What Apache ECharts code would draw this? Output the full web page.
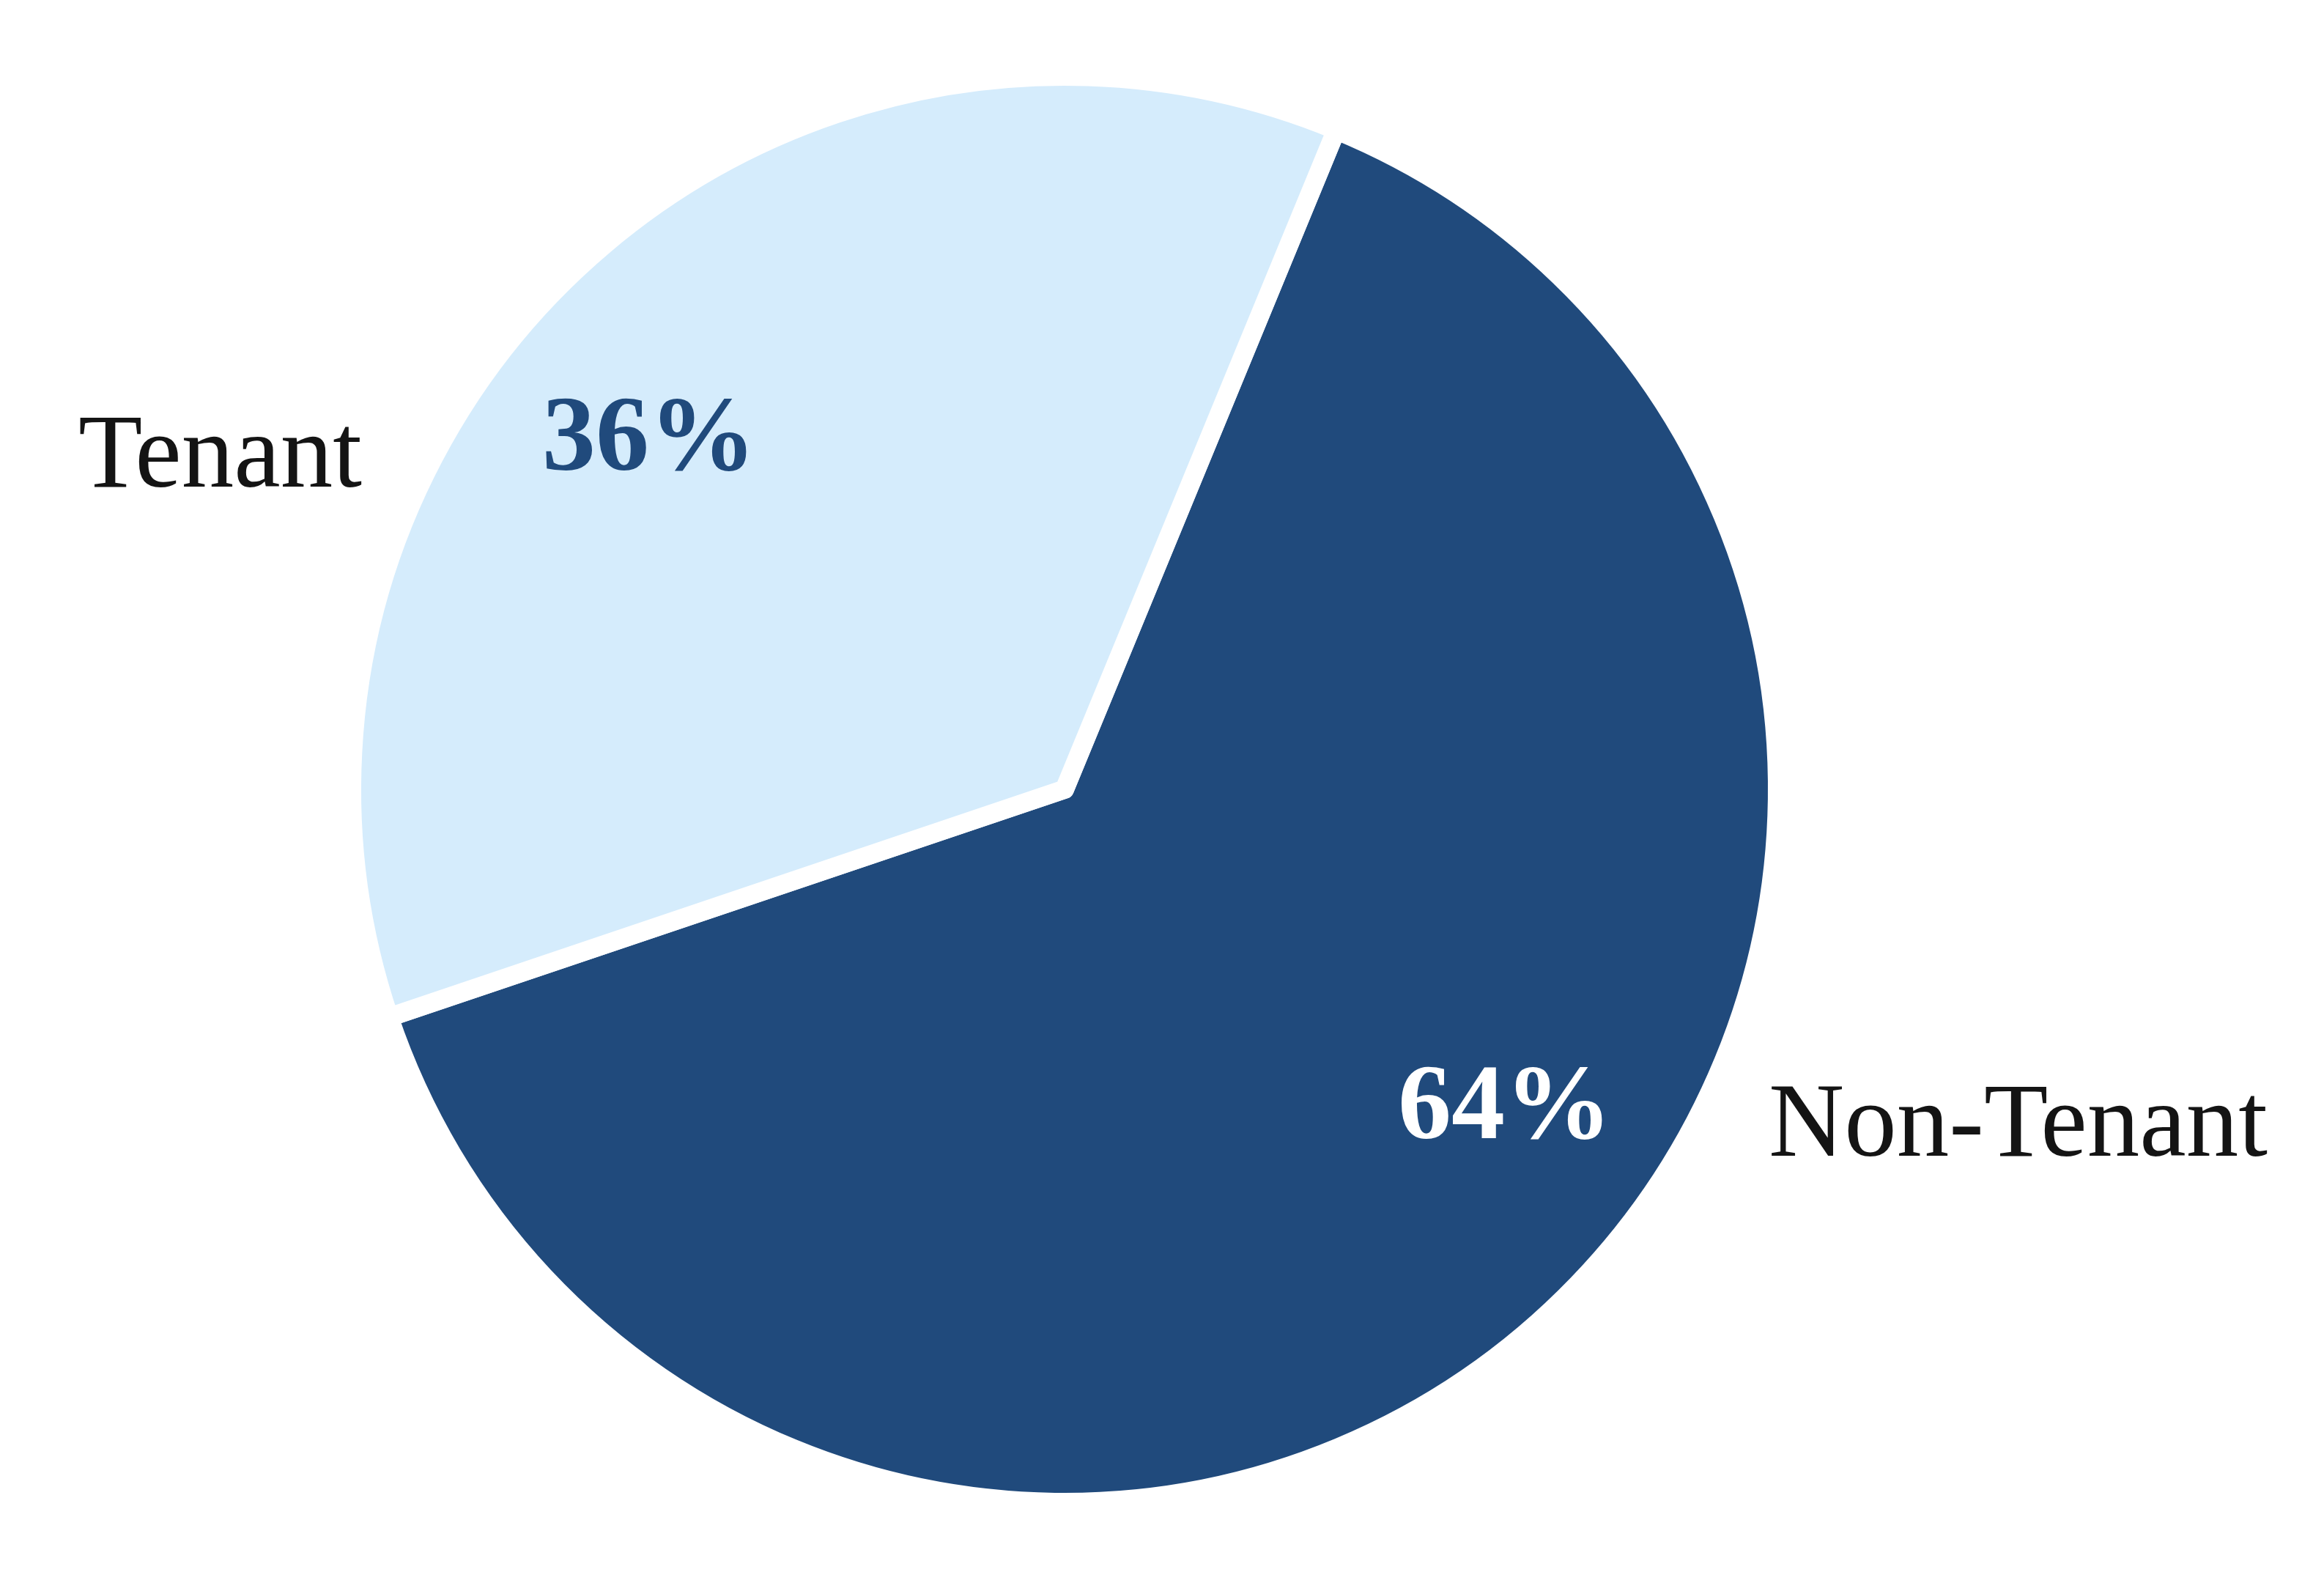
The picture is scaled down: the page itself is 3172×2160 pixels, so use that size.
<!DOCTYPE html>
<html>
<head>
<meta charset="utf-8">
<script src="https://cdn.jsdelivr.net/npm/echarts@6/dist/echarts.min.js"></script>
<style>
html,body{margin:0;padding:0;background:#fff;}
#chart{width:3172px;height:2160px;}
</style>
</head>
<body>
<div id="chart"></div>
<script>
const categories = ['Non-Tenant', 'Tenant'];
const shares = [63.6, 36.4];
const sliceColors = ['#204a7c', '#d5ecfc'];
const percentColors = ['#ffffff', '#204a7c'];

const CENTER = [1453, 1077];
const R = 973;
const serif = 'Liberation Serif';

const data = categories.map((c, i) => ({ name: c, value: shares[i] }));

const chart = echarts.init(document.getElementById('chart'), null, { renderer: 'canvas' });
chart.setOption({
  backgroundColor: '#ffffff',
  animation: false,
  series: [
    {
      type: 'pie',
      center: CENTER,
      radius: R,
      startAngle: 67.6,
      clockwise: true,
      silent: true,
      label: { show: false },
      labelLine: { show: false },
      itemStyle: { borderColor: '#ffffff', borderWidth: 26 },
      data: data.map((d, i) => ({ ...d, itemStyle: { color: sliceColors[i] } })),
      z: 2
    },
    {
      // percentage labels (transparent carrier ring)
      type: 'pie',
      center: [1470, 1059],
      radius: [688, 788],
      startAngle: 76.5,
      clockwise: true,
      silent: true,
      itemStyle: { color: 'rgba(0,0,0,0)' },
      label: {
        show: true,
        position: 'inside',
        formatter: p => Math.round(p.value) + '%',
        fontFamily: serif,
        fontWeight: 'bold',
        fontSize: 146
      },
      labelLine: { show: false },
      data: data.map((d, i) => ({ ...d, label: { color: percentColors[i] } })),
      z: 3
    },
    {
      // category name labels (transparent carrier)
      type: 'pie',
      center: [1454, 1083],
      radius: R,
      startAngle: 89.05,
      clockwise: true,
      silent: true,
      avoidLabelOverlap: false,
      itemStyle: { color: 'rgba(0,0,0,0)' },
      label: {
        show: true,
        position: 'outside',
        formatter: '{b}',
        fontFamily: serif,
        fontSize: 143,
        color: '#141414',
        distanceToLabelLine: 0
      },
      labelLine: { show: false, length: 90, length2: 0 },
      data: data,
      z: 3
    }
  ]
});
</script>
</body>
</html>
